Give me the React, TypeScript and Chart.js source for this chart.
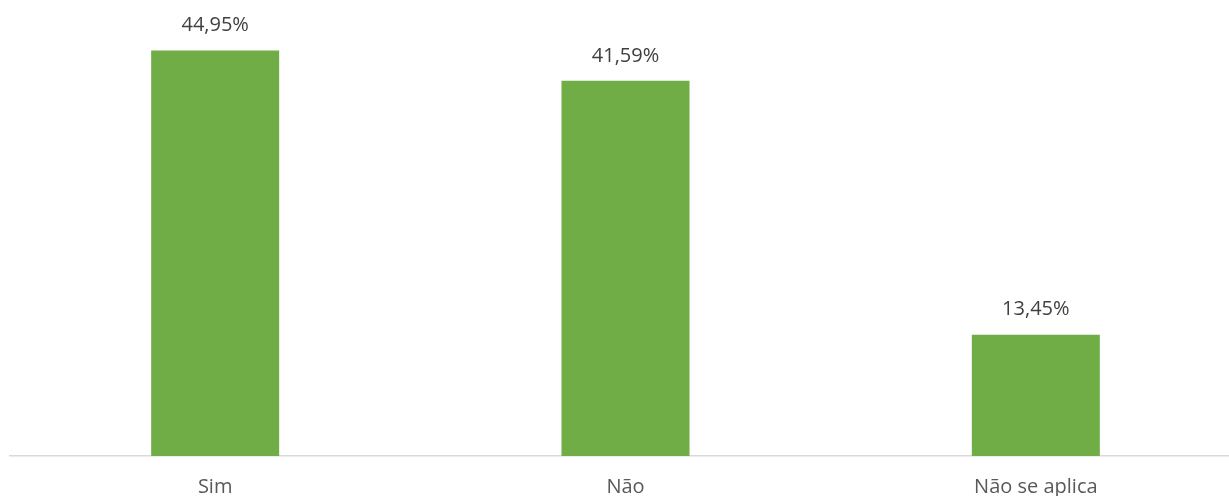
import React, { useEffect, useRef } from "react";
import { Chart, registerables } from "chart.js";

Chart.register(...registerables);

const categories = ["Sim", "Não", "Não se aplica"];
const values = [44.95, 41.59, 13.45];
const valueLabels = ["44,95%", "41,59%", "13,45%"];

const FONT = "'Open Sans', 'Liberation Sans', sans-serif";

const dataLabelPlugin = {
  id: "dataLabels",
  afterDatasetsDraw(chart: any) {
    const ctx = chart.ctx;
    const meta = chart.getDatasetMeta(0);
    ctx.save();
    ctx.font = `20px ${FONT}`;
    ctx.fillStyle = "#404040";
    ctx.textAlign = "center";
    ctx.textBaseline = "middle";
    meta.data.forEach((bar: any, i: number) => {
      ctx.fillText(valueLabels[i], bar.x, bar.y - 25);
    });
    ctx.restore();
  },
};

export default function App() {
  const ref = useRef<HTMLCanvasElement | null>(null);
  useEffect(() => {
    document.body.style.margin = "0";
    const chart = new Chart(ref.current as HTMLCanvasElement, {
      type: "bar",
      data: {
        labels: categories,
        datasets: [
          {
            data: values,
            backgroundColor: "#70AD47",
            borderWidth: 0,
            barPercentage: 0.312,
            categoryPercentage: 1,
          },
        ],
      },
      options: {
        responsive: false,
        animation: false,
        layout: { padding: { left: 10, right: 9, top: 5, bottom: 0 } },
        plugins: {
          legend: { display: false },
          tooltip: { enabled: false },
        },
        scales: {
          x: {
            grid: { display: false, drawTicks: false },
            border: { display: true, color: "#D9D9D9", width: 1.5 },
            ticks: {
              color: "#595959",
              font: { family: FONT, size: 20 },
              padding: 19,
            },
          },
          y: {
            display: false,
            min: 0,
            max: 50,
          },
        },
      },
      plugins: [dataLabelPlugin],
    });
    return () => chart.destroy();
  }, []);
  return (
    <div style={{ width: 1229, height: 496, overflow: "hidden", position: "relative" }}>
      <canvas ref={ref} width={1250} height={518} style={{ display: "block" }} />
    </div>
  );
}
